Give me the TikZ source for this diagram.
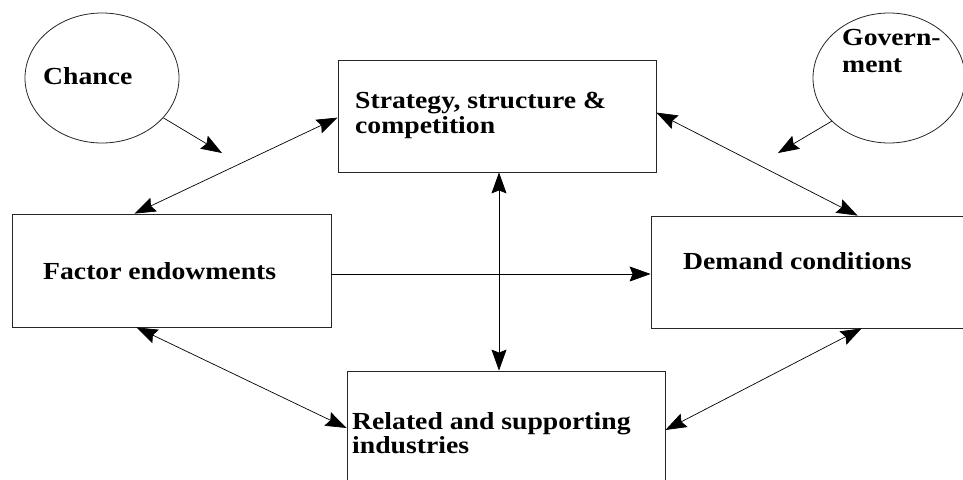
\documentclass[tikz,border=0pt]{standalone}
\usepackage{fontspec}
\setmainfont{Liberation Serif}[FakeStretch=1.13]
\usetikzlibrary{arrows.meta,shapes.geometric}
\tikzset{
  box/.style={draw=black!85,line width=0.8pt,rectangle,inner sep=0pt,minimum width=318pt,minimum height=112pt},
  oval/.style={draw=black!85,line width=0.8pt,ellipse,inner sep=0pt,minimum width=154pt,minimum height=130pt},
  txt/.style={anchor=base west,inner sep=0pt,align=left,font=\fontsize{24.5}{24}\selectfont\bfseries},
  one/.style={line width=0.7pt,-{Stealth[length=21pt,width=15pt,inset=3pt]}},
  two/.style={line width=0.7pt,{Stealth[length=21pt,width=15pt,inset=3pt]}-{Stealth[length=21pt,width=15pt,inset=3pt]}}
}
\begin{document}
\begin{tikzpicture}[x=1pt,y=-1pt]
\clip (0,0) rectangle (963,479);
\node[oval] (chance) at (102,78) {};
\node[oval,minimum width=152pt] (gov) at (889,78) {};
\node[box] (strat) at (497,116) {};
\node[box,minimum width=319pt,minimum height=113pt] (fac) at (171.5,270.5) {};
\node[box] (dem) at (810,272) {};
\node[box] (rel) at (506,427) {};
\node[txt] (tchance) at (43,84) {Chance};
\node[txt,font=\fontsize{24.5}{27}\selectfont\bfseries] (tgov) at (842,72) {Govern-\\ment};
\node[txt,font=\fontsize{24.5}{25}\selectfont\bfseries] (tstrat) at (355,133) {Strategy, structure \&\\competition};
\node[txt] (tfac) at (43,279) {Factor endowments};
\node[txt] (tdem) at (683,269) {Demand conditions};
\node[txt,font=\fontsize{24.5}{22}\selectfont\bfseries] (trel) at (352,453) {Related and supporting\\industries};
\coordinate (c1) at (222,153);
\coordinate (c2) at (778,153);
\draw[one] (chance.-33) -- (c1);
\draw[one] (gov.217) -- (c2);
\draw[two] ([xshift=123pt]fac.north west) -- ([yshift=-58pt]strat.north west);
\draw[two] ([yshift=-53pt]strat.north east) -- ([xshift=207pt]dem.north west);
\draw[two] ([xshift=2pt]strat.south) -- ([xshift=2pt]strat.south |- rel.north);
\draw[one] ([yshift=-3.5pt]fac.east) -- ([yshift=-3.5pt]fac.east -| dem.west);
\draw[two] ([xshift=125pt]fac.south west) -- ([yshift=-1pt]rel.west);
\draw[two] ([xshift=211pt]dem.south west) -- ([yshift=-3pt]rel.east);
\end{tikzpicture}
\end{document}
